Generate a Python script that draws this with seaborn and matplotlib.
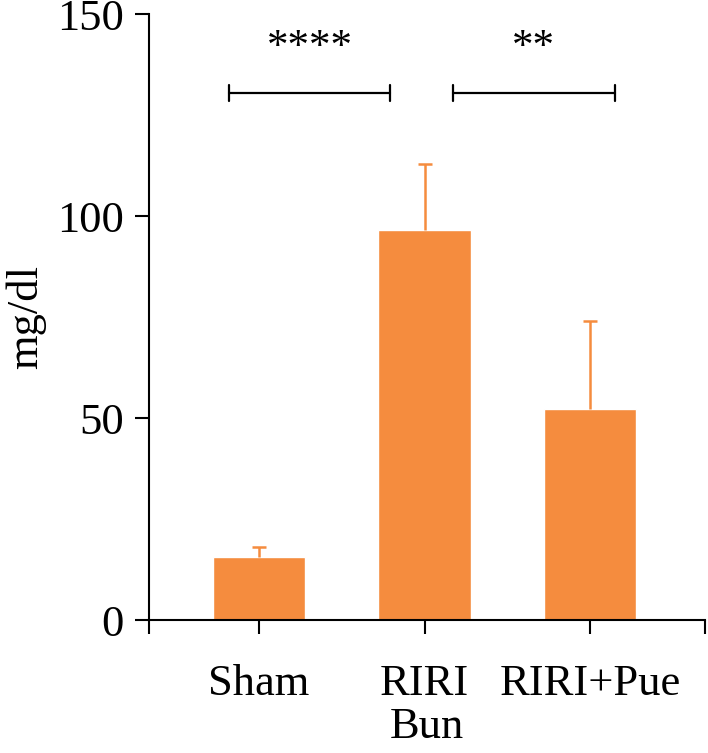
import matplotlib

matplotlib.use("Agg")

import matplotlib.pyplot as plt
import pandas as pd
import seaborn as sns

groups = ["Sham", "RIRI", "RIRI+Pue"]
bun_mean = [15.5, 96.5, 52.2]
bun_sd = [2.6, 16.3, 21.8]

# significance brackets: (x start, x end, label)
brackets = [(-0.18, 0.79, "****"), (1.17, 2.15, "**")]
bracket_y = 130.5
star_y = 139

BAR_COLOR = "#F58C3E"


def main() -> None:
    sns.set_style("ticks")
    plt.rcParams["font.family"] = ["Liberation Serif", "DejaVu Serif"]
    plt.rcParams["text.color"] = "black"
    plt.rcParams["axes.labelcolor"] = "black"
    plt.rcParams["xtick.color"] = "black"
    plt.rcParams["ytick.color"] = "black"
    plt.rcParams["axes.edgecolor"] = "black"

    df = pd.DataFrame({"group": groups, "mean": bun_mean, "sd": bun_sd})

    fig = plt.figure(figsize=(7.08, 7.53), dpi=100)
    ax = fig.add_axes([0.2105, 0.1766, 0.7853, 0.8048])

    sns.barplot(data=df, x="group", y="mean", order=groups, color=BAR_COLOR,
                saturation=1, width=0.56, errorbar=None, ax=ax)
    _, caps, _ = ax.errorbar(range(len(groups)), df["mean"],
                             yerr=[[0] * len(groups), df["sd"]], fmt="none",
                             ecolor=BAR_COLOR, elinewidth=1.8, capsize=5, capthick=1.8)
    caps[0].set_visible(False)

    for x0, x1, label in brackets:
        ax.plot([x0, x1], [bracket_y, bracket_y], color="black", lw=1.6)
        ax.plot([x0, x0], [bracket_y - 2, bracket_y + 2], color="black", lw=1.6)
        ax.plot([x1, x1], [bracket_y - 2, bracket_y + 2], color="black", lw=1.6)
        ax.text((x0 + x1) / 2, star_y, label, ha="center", va="baseline", fontsize=31)

    ax.set_xlim(-0.665, 2.695)
    ax.set_ylim(0, 150)
    ax.set_yticks([0, 50, 100, 150])
    ax.set_xticks(range(len(groups)))
    ax.set_xticklabels(groups)
    ax.set_xticks([-0.665, 2.695], minor=True)
    ax.tick_params(axis="both", which="both", length=10, width=1.5, labelsize=32,
                   direction="out", pad=8)
    ax.tick_params(axis="x", which="major", pad=22)
    ax.set_xlabel("Bun", fontsize=32, labelpad=2)
    ax.set_ylabel("mg/dl", fontsize=32, labelpad=8)
    sns.despine(ax=ax)
    for side in ["left", "bottom"]:
        ax.spines[side].set_linewidth(1.5)

    fig.savefig("out.png", dpi=100)
    plt.close(fig)


if __name__ == "__main__":
    main()
